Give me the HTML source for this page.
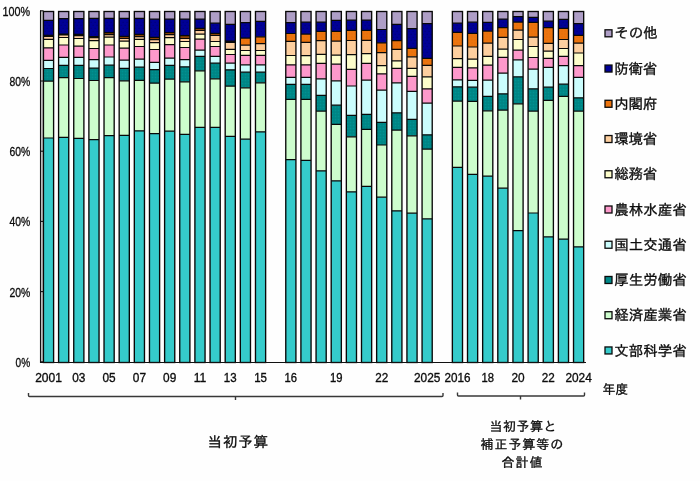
<!DOCTYPE html>
<html lang="ja"><head><meta charset="utf-8"><title>科学技術関係予算の府省別割合</title>
<style>html,body{margin:0;padding:0;background:#fff}svg{display:block}text{font-family:"Liberation Sans","IPAGothic","Noto Sans CJK JP",sans-serif;fill:#0c0c0c;stroke:#0c0c0c;stroke-width:.33px}</style></head><body>
<svg width="700" height="481" viewBox="0 0 700 481">
<rect x="0" y="0" width="700" height="481" fill="#fefefe"/>
<rect x="41" y="11" width="2.2" height="351.5" fill="#c4c4c4"/>
<defs>
<pattern id="pn" width="4" height="6" patternUnits="userSpaceOnUse"><rect width="4" height="6" fill="#000096"/><rect x="0.6" y="0.8" width="1" height="1" fill="#00006c"/><rect x="2.6" y="3.8" width="1" height="1" fill="#00006c"/></pattern>
<pattern id="pt" width="3" height="3" patternUnits="userSpaceOnUse"><rect width="3" height="3" fill="#008888"/><rect x="0.5" y="0.5" width="1" height="1" fill="#007c7c"/><rect x="2" y="2" width="1" height="1" fill="#009292"/></pattern>
<pattern id="po" width="3" height="3" patternUnits="userSpaceOnUse"><rect width="3" height="3" fill="#EC740E"/><rect x="0.5" y="0.5" width="1" height="1" fill="#de6c08"/></pattern>
</defs>
<g>
<rect x="43.45" y="11.50" width="10.15" height="8.80" fill="#AE9EC6"/>
<rect x="43.45" y="20.30" width="10.15" height="15.00" fill="url(#pn)"/>
<rect x="43.45" y="35.30" width="10.15" height="1.20" fill="#8a4306"/>
<rect x="43.45" y="36.50" width="10.15" height="2.90" fill="#FDCF9F"/>
<rect x="43.45" y="39.40" width="10.15" height="8.50" fill="#FDFDCB"/>
<rect x="43.45" y="47.90" width="10.15" height="12.40" fill="#FD99CB"/>
<rect x="43.45" y="60.30" width="10.15" height="8.20" fill="#CBFDFD"/>
<rect x="43.45" y="68.50" width="10.15" height="12.70" fill="url(#pt)"/>
<rect x="43.45" y="81.20" width="10.15" height="56.80" fill="#CDFDCD"/>
<rect x="43.45" y="138.00" width="10.15" height="224.50" fill="#35CBCB"/>
<path d="M43.45 20.30h10.15M43.45 35.30h10.15M43.45 36.50h10.15M43.45 39.40h10.15M43.45 47.90h10.15M43.45 60.30h10.15M43.45 68.50h10.15M43.45 81.20h10.15M43.45 138.00h10.15" stroke="#080808" stroke-width="1.2" fill="none"/>
<rect x="43.45" y="11.50" width="10.15" height="351.00" fill="none" stroke="#080808" stroke-width="1.35"/>
</g>
<g>
<rect x="58.59" y="11.50" width="10.15" height="7.10" fill="#AE9EC6"/>
<rect x="58.59" y="18.60" width="10.15" height="15.40" fill="url(#pn)"/>
<rect x="58.59" y="34.00" width="10.15" height="0.80" fill="#8a4306"/>
<rect x="58.59" y="34.80" width="10.15" height="2.70" fill="#FDCF9F"/>
<rect x="58.59" y="37.50" width="10.15" height="7.50" fill="#FDFDCB"/>
<rect x="58.59" y="45.00" width="10.15" height="12.40" fill="#FD99CB"/>
<rect x="58.59" y="57.40" width="10.15" height="7.90" fill="#CBFDFD"/>
<rect x="58.59" y="65.30" width="10.15" height="12.40" fill="url(#pt)"/>
<rect x="58.59" y="77.70" width="10.15" height="59.60" fill="#CDFDCD"/>
<rect x="58.59" y="137.30" width="10.15" height="225.20" fill="#35CBCB"/>
<path d="M58.59 18.60h10.15M58.59 34.00h10.15M58.59 34.80h10.15M58.59 37.50h10.15M58.59 45.00h10.15M58.59 57.40h10.15M58.59 65.30h10.15M58.59 77.70h10.15M58.59 137.30h10.15" stroke="#080808" stroke-width="1.2" fill="none"/>
<rect x="58.59" y="11.50" width="10.15" height="351.00" fill="none" stroke="#080808" stroke-width="1.35"/>
</g>
<g>
<rect x="73.74" y="11.50" width="10.15" height="7.10" fill="#AE9EC6"/>
<rect x="73.74" y="18.60" width="10.15" height="15.70" fill="url(#pn)"/>
<rect x="73.74" y="34.30" width="10.15" height="1.30" fill="#8a4306"/>
<rect x="73.74" y="35.60" width="10.15" height="2.90" fill="#FDCF9F"/>
<rect x="73.74" y="38.50" width="10.15" height="7.70" fill="#FDFDCB"/>
<rect x="73.74" y="46.20" width="10.15" height="11.20" fill="#FD99CB"/>
<rect x="73.74" y="57.40" width="10.15" height="8.00" fill="#CBFDFD"/>
<rect x="73.74" y="65.40" width="10.15" height="13.10" fill="url(#pt)"/>
<rect x="73.74" y="78.50" width="10.15" height="59.80" fill="#CDFDCD"/>
<rect x="73.74" y="138.30" width="10.15" height="224.20" fill="#35CBCB"/>
<path d="M73.74 18.60h10.15M73.74 34.30h10.15M73.74 35.60h10.15M73.74 38.50h10.15M73.74 46.20h10.15M73.74 57.40h10.15M73.74 65.40h10.15M73.74 78.50h10.15M73.74 138.30h10.15" stroke="#080808" stroke-width="1.2" fill="none"/>
<rect x="73.74" y="11.50" width="10.15" height="351.00" fill="none" stroke="#080808" stroke-width="1.35"/>
</g>
<g>
<rect x="88.89" y="11.50" width="10.15" height="6.90" fill="#AE9EC6"/>
<rect x="88.89" y="18.40" width="10.15" height="18.10" fill="url(#pn)"/>
<rect x="88.89" y="36.50" width="10.15" height="1.20" fill="#8a4306"/>
<rect x="88.89" y="37.70" width="10.15" height="2.90" fill="#FDCF9F"/>
<rect x="88.89" y="40.60" width="10.15" height="7.90" fill="#FDFDCB"/>
<rect x="88.89" y="48.50" width="10.15" height="11.10" fill="#FD99CB"/>
<rect x="88.89" y="59.60" width="10.15" height="8.50" fill="#CBFDFD"/>
<rect x="88.89" y="68.10" width="10.15" height="12.40" fill="url(#pt)"/>
<rect x="88.89" y="80.50" width="10.15" height="59.20" fill="#CDFDCD"/>
<rect x="88.89" y="139.70" width="10.15" height="222.80" fill="#35CBCB"/>
<path d="M88.89 18.40h10.15M88.89 36.50h10.15M88.89 37.70h10.15M88.89 40.60h10.15M88.89 48.50h10.15M88.89 59.60h10.15M88.89 68.10h10.15M88.89 80.50h10.15M88.89 139.70h10.15" stroke="#080808" stroke-width="1.2" fill="none"/>
<rect x="88.89" y="11.50" width="10.15" height="351.00" fill="none" stroke="#080808" stroke-width="1.35"/>
</g>
<g>
<rect x="104.03" y="11.50" width="10.15" height="6.80" fill="#AE9EC6"/>
<rect x="104.03" y="18.30" width="10.15" height="14.30" fill="url(#pn)"/>
<rect x="104.03" y="32.60" width="10.15" height="2.00" fill="#8a4306"/>
<rect x="104.03" y="34.60" width="10.15" height="2.50" fill="#FDCF9F"/>
<rect x="104.03" y="37.10" width="10.15" height="7.90" fill="#FDFDCB"/>
<rect x="104.03" y="45.00" width="10.15" height="12.00" fill="#FD99CB"/>
<rect x="104.03" y="57.00" width="10.15" height="8.20" fill="#CBFDFD"/>
<rect x="104.03" y="65.20" width="10.15" height="12.40" fill="url(#pt)"/>
<rect x="104.03" y="77.60" width="10.15" height="58.10" fill="#CDFDCD"/>
<rect x="104.03" y="135.70" width="10.15" height="226.80" fill="#35CBCB"/>
<path d="M104.03 18.30h10.15M104.03 32.60h10.15M104.03 34.60h10.15M104.03 37.10h10.15M104.03 45.00h10.15M104.03 57.00h10.15M104.03 65.20h10.15M104.03 77.60h10.15M104.03 135.70h10.15" stroke="#080808" stroke-width="1.2" fill="none"/>
<rect x="104.03" y="11.50" width="10.15" height="351.00" fill="none" stroke="#080808" stroke-width="1.35"/>
</g>
<g>
<rect x="119.17" y="11.50" width="10.15" height="6.80" fill="#AE9EC6"/>
<rect x="119.17" y="18.30" width="10.15" height="18.10" fill="url(#pn)"/>
<rect x="119.17" y="36.40" width="10.15" height="2.10" fill="#8a4306"/>
<rect x="119.17" y="38.50" width="10.15" height="2.60" fill="#FDCF9F"/>
<rect x="119.17" y="41.10" width="10.15" height="7.10" fill="#FDFDCB"/>
<rect x="119.17" y="48.20" width="10.15" height="11.90" fill="#FD99CB"/>
<rect x="119.17" y="60.10" width="10.15" height="8.20" fill="#CBFDFD"/>
<rect x="119.17" y="68.30" width="10.15" height="12.50" fill="url(#pt)"/>
<rect x="119.17" y="80.80" width="10.15" height="54.50" fill="#CDFDCD"/>
<rect x="119.17" y="135.30" width="10.15" height="227.20" fill="#35CBCB"/>
<path d="M119.17 18.30h10.15M119.17 36.40h10.15M119.17 38.50h10.15M119.17 41.10h10.15M119.17 48.20h10.15M119.17 60.10h10.15M119.17 68.30h10.15M119.17 80.80h10.15M119.17 135.30h10.15" stroke="#080808" stroke-width="1.2" fill="none"/>
<rect x="119.17" y="11.50" width="10.15" height="351.00" fill="none" stroke="#080808" stroke-width="1.35"/>
</g>
<g>
<rect x="134.32" y="11.50" width="10.15" height="6.80" fill="#AE9EC6"/>
<rect x="134.32" y="18.30" width="10.15" height="16.10" fill="url(#pn)"/>
<rect x="134.32" y="34.40" width="10.15" height="2.30" fill="#8a4306"/>
<rect x="134.32" y="36.70" width="10.15" height="2.70" fill="#FDCF9F"/>
<rect x="134.32" y="39.40" width="10.15" height="7.10" fill="#FDFDCB"/>
<rect x="134.32" y="46.50" width="10.15" height="12.70" fill="#FD99CB"/>
<rect x="134.32" y="59.20" width="10.15" height="8.00" fill="#CBFDFD"/>
<rect x="134.32" y="67.20" width="10.15" height="13.10" fill="url(#pt)"/>
<rect x="134.32" y="80.30" width="10.15" height="50.50" fill="#CDFDCD"/>
<rect x="134.32" y="130.80" width="10.15" height="231.70" fill="#35CBCB"/>
<path d="M134.32 18.30h10.15M134.32 34.40h10.15M134.32 36.70h10.15M134.32 39.40h10.15M134.32 46.50h10.15M134.32 59.20h10.15M134.32 67.20h10.15M134.32 80.30h10.15M134.32 130.80h10.15" stroke="#080808" stroke-width="1.2" fill="none"/>
<rect x="134.32" y="11.50" width="10.15" height="351.00" fill="none" stroke="#080808" stroke-width="1.35"/>
</g>
<g>
<rect x="149.47" y="11.50" width="10.15" height="7.60" fill="#AE9EC6"/>
<rect x="149.47" y="19.10" width="10.15" height="18.30" fill="url(#pn)"/>
<rect x="149.47" y="37.40" width="10.15" height="2.30" fill="#8a4306"/>
<rect x="149.47" y="39.70" width="10.15" height="2.90" fill="#FDCF9F"/>
<rect x="149.47" y="42.60" width="10.15" height="6.90" fill="#FDFDCB"/>
<rect x="149.47" y="49.50" width="10.15" height="12.80" fill="#FD99CB"/>
<rect x="149.47" y="62.30" width="10.15" height="7.40" fill="#CBFDFD"/>
<rect x="149.47" y="69.70" width="10.15" height="13.50" fill="url(#pt)"/>
<rect x="149.47" y="83.20" width="10.15" height="50.50" fill="#CDFDCD"/>
<rect x="149.47" y="133.70" width="10.15" height="228.80" fill="#35CBCB"/>
<path d="M149.47 19.10h10.15M149.47 37.40h10.15M149.47 39.70h10.15M149.47 42.60h10.15M149.47 49.50h10.15M149.47 62.30h10.15M149.47 69.70h10.15M149.47 83.20h10.15M149.47 133.70h10.15" stroke="#080808" stroke-width="1.2" fill="none"/>
<rect x="149.47" y="11.50" width="10.15" height="351.00" fill="none" stroke="#080808" stroke-width="1.35"/>
</g>
<g>
<rect x="164.61" y="11.50" width="10.15" height="7.60" fill="#AE9EC6"/>
<rect x="164.61" y="19.10" width="10.15" height="13.40" fill="url(#pn)"/>
<rect x="164.61" y="32.50" width="10.15" height="2.10" fill="#8a4306"/>
<rect x="164.61" y="34.60" width="10.15" height="3.00" fill="#FDCF9F"/>
<rect x="164.61" y="37.60" width="10.15" height="7.00" fill="#FDFDCB"/>
<rect x="164.61" y="44.60" width="10.15" height="13.50" fill="#FD99CB"/>
<rect x="164.61" y="58.10" width="10.15" height="7.20" fill="#CBFDFD"/>
<rect x="164.61" y="65.30" width="10.15" height="13.90" fill="url(#pt)"/>
<rect x="164.61" y="79.20" width="10.15" height="52.00" fill="#CDFDCD"/>
<rect x="164.61" y="131.20" width="10.15" height="231.30" fill="#35CBCB"/>
<path d="M164.61 19.10h10.15M164.61 32.50h10.15M164.61 34.60h10.15M164.61 37.60h10.15M164.61 44.60h10.15M164.61 58.10h10.15M164.61 65.30h10.15M164.61 79.20h10.15M164.61 131.20h10.15" stroke="#080808" stroke-width="1.2" fill="none"/>
<rect x="164.61" y="11.50" width="10.15" height="351.00" fill="none" stroke="#080808" stroke-width="1.35"/>
</g>
<g>
<rect x="179.75" y="11.50" width="10.15" height="7.60" fill="#AE9EC6"/>
<rect x="179.75" y="19.10" width="10.15" height="16.60" fill="url(#pn)"/>
<rect x="179.75" y="35.70" width="10.15" height="2.80" fill="#8a4306"/>
<rect x="179.75" y="38.50" width="10.15" height="3.00" fill="#FDCF9F"/>
<rect x="179.75" y="41.50" width="10.15" height="6.00" fill="#FDFDCB"/>
<rect x="179.75" y="47.50" width="10.15" height="12.20" fill="#FD99CB"/>
<rect x="179.75" y="59.70" width="10.15" height="7.10" fill="#CBFDFD"/>
<rect x="179.75" y="66.80" width="10.15" height="15.00" fill="url(#pt)"/>
<rect x="179.75" y="81.80" width="10.15" height="52.60" fill="#CDFDCD"/>
<rect x="179.75" y="134.40" width="10.15" height="228.10" fill="#35CBCB"/>
<path d="M179.75 19.10h10.15M179.75 35.70h10.15M179.75 38.50h10.15M179.75 41.50h10.15M179.75 47.50h10.15M179.75 59.70h10.15M179.75 66.80h10.15M179.75 81.80h10.15M179.75 134.40h10.15" stroke="#080808" stroke-width="1.2" fill="none"/>
<rect x="179.75" y="11.50" width="10.15" height="351.00" fill="none" stroke="#080808" stroke-width="1.35"/>
</g>
<g>
<rect x="194.90" y="11.50" width="10.15" height="7.60" fill="#AE9EC6"/>
<rect x="194.90" y="19.10" width="10.15" height="9.20" fill="url(#pn)"/>
<rect x="194.90" y="28.30" width="10.15" height="2.20" fill="#8a4306"/>
<rect x="194.90" y="30.50" width="10.15" height="3.70" fill="#FDCF9F"/>
<rect x="194.90" y="34.20" width="10.15" height="5.00" fill="#FDFDCB"/>
<rect x="194.90" y="39.20" width="10.15" height="11.00" fill="#FD99CB"/>
<rect x="194.90" y="50.20" width="10.15" height="6.20" fill="#CBFDFD"/>
<rect x="194.90" y="56.40" width="10.15" height="14.40" fill="url(#pt)"/>
<rect x="194.90" y="70.80" width="10.15" height="56.60" fill="#CDFDCD"/>
<rect x="194.90" y="127.40" width="10.15" height="235.10" fill="#35CBCB"/>
<path d="M194.90 19.10h10.15M194.90 28.30h10.15M194.90 30.50h10.15M194.90 34.20h10.15M194.90 39.20h10.15M194.90 50.20h10.15M194.90 56.40h10.15M194.90 70.80h10.15M194.90 127.40h10.15" stroke="#080808" stroke-width="1.2" fill="none"/>
<rect x="194.90" y="11.50" width="10.15" height="351.00" fill="none" stroke="#080808" stroke-width="1.35"/>
</g>
<g>
<rect x="210.05" y="11.50" width="10.15" height="11.60" fill="#AE9EC6"/>
<rect x="210.05" y="23.10" width="10.15" height="10.20" fill="url(#pn)"/>
<rect x="210.05" y="33.30" width="10.15" height="2.20" fill="#8a4306"/>
<rect x="210.05" y="35.50" width="10.15" height="6.00" fill="#FDCF9F"/>
<rect x="210.05" y="41.50" width="10.15" height="5.00" fill="#FDFDCB"/>
<rect x="210.05" y="46.50" width="10.15" height="9.80" fill="#FD99CB"/>
<rect x="210.05" y="56.30" width="10.15" height="6.90" fill="#CBFDFD"/>
<rect x="210.05" y="63.20" width="10.15" height="15.60" fill="url(#pt)"/>
<rect x="210.05" y="78.80" width="10.15" height="48.60" fill="#CDFDCD"/>
<rect x="210.05" y="127.40" width="10.15" height="235.10" fill="#35CBCB"/>
<path d="M210.05 23.10h10.15M210.05 33.30h10.15M210.05 35.50h10.15M210.05 41.50h10.15M210.05 46.50h10.15M210.05 56.30h10.15M210.05 63.20h10.15M210.05 78.80h10.15M210.05 127.40h10.15" stroke="#080808" stroke-width="1.2" fill="none"/>
<rect x="210.05" y="11.50" width="10.15" height="351.00" fill="none" stroke="#080808" stroke-width="1.35"/>
</g>
<g>
<rect x="225.19" y="11.50" width="10.15" height="12.90" fill="#AE9EC6"/>
<rect x="225.19" y="24.40" width="10.15" height="16.70" fill="url(#pn)"/>
<rect x="225.19" y="41.10" width="10.15" height="1.30" fill="#8a4306"/>
<rect x="225.19" y="42.40" width="10.15" height="7.00" fill="#FDCF9F"/>
<rect x="225.19" y="49.40" width="10.15" height="5.10" fill="#FDFDCB"/>
<rect x="225.19" y="54.50" width="10.15" height="8.70" fill="#FD99CB"/>
<rect x="225.19" y="63.20" width="10.15" height="6.60" fill="#CBFDFD"/>
<rect x="225.19" y="69.80" width="10.15" height="16.40" fill="url(#pt)"/>
<rect x="225.19" y="86.20" width="10.15" height="50.20" fill="#CDFDCD"/>
<rect x="225.19" y="136.40" width="10.15" height="226.10" fill="#35CBCB"/>
<path d="M225.19 24.40h10.15M225.19 41.10h10.15M225.19 42.40h10.15M225.19 49.40h10.15M225.19 54.50h10.15M225.19 63.20h10.15M225.19 69.80h10.15M225.19 86.20h10.15M225.19 136.40h10.15" stroke="#080808" stroke-width="1.2" fill="none"/>
<rect x="225.19" y="11.50" width="10.15" height="351.00" fill="none" stroke="#080808" stroke-width="1.35"/>
</g>
<g>
<rect x="240.33" y="11.50" width="10.15" height="11.10" fill="#AE9EC6"/>
<rect x="240.33" y="22.60" width="10.15" height="15.50" fill="url(#pn)"/>
<rect x="240.33" y="38.10" width="10.15" height="7.00" fill="url(#po)"/>
<rect x="240.33" y="45.10" width="10.15" height="5.40" fill="#FDCF9F"/>
<rect x="240.33" y="50.50" width="10.15" height="4.80" fill="#FDFDCB"/>
<rect x="240.33" y="55.30" width="10.15" height="9.50" fill="#FD99CB"/>
<rect x="240.33" y="64.80" width="10.15" height="7.40" fill="#CBFDFD"/>
<rect x="240.33" y="72.20" width="10.15" height="15.60" fill="url(#pt)"/>
<rect x="240.33" y="87.80" width="10.15" height="51.40" fill="#CDFDCD"/>
<rect x="240.33" y="139.20" width="10.15" height="223.30" fill="#35CBCB"/>
<path d="M240.33 22.60h10.15M240.33 38.10h10.15M240.33 45.10h10.15M240.33 50.50h10.15M240.33 55.30h10.15M240.33 64.80h10.15M240.33 72.20h10.15M240.33 87.80h10.15M240.33 139.20h10.15" stroke="#080808" stroke-width="1.2" fill="none"/>
<rect x="240.33" y="11.50" width="10.15" height="351.00" fill="none" stroke="#080808" stroke-width="1.35"/>
</g>
<g>
<rect x="255.48" y="11.50" width="10.15" height="9.90" fill="#AE9EC6"/>
<rect x="255.48" y="21.40" width="10.15" height="15.40" fill="url(#pn)"/>
<rect x="255.48" y="36.80" width="10.15" height="6.90" fill="url(#po)"/>
<rect x="255.48" y="43.70" width="10.15" height="6.80" fill="#FDCF9F"/>
<rect x="255.48" y="50.50" width="10.15" height="4.80" fill="#FDFDCB"/>
<rect x="255.48" y="55.30" width="10.15" height="9.50" fill="#FD99CB"/>
<rect x="255.48" y="64.80" width="10.15" height="7.40" fill="#CBFDFD"/>
<rect x="255.48" y="72.20" width="10.15" height="10.60" fill="url(#pt)"/>
<rect x="255.48" y="82.80" width="10.15" height="49.00" fill="#CDFDCD"/>
<rect x="255.48" y="131.80" width="10.15" height="230.70" fill="#35CBCB"/>
<path d="M255.48 21.40h10.15M255.48 36.80h10.15M255.48 43.70h10.15M255.48 50.50h10.15M255.48 55.30h10.15M255.48 64.80h10.15M255.48 72.20h10.15M255.48 82.80h10.15M255.48 131.80h10.15" stroke="#080808" stroke-width="1.2" fill="none"/>
<rect x="255.48" y="11.50" width="10.15" height="351.00" fill="none" stroke="#080808" stroke-width="1.35"/>
</g>
<g>
<rect x="285.77" y="11.50" width="10.15" height="11.10" fill="#AE9EC6"/>
<rect x="285.77" y="22.60" width="10.15" height="10.90" fill="url(#pn)"/>
<rect x="285.77" y="33.50" width="10.15" height="7.90" fill="url(#po)"/>
<rect x="285.77" y="41.40" width="10.15" height="14.10" fill="#FDCF9F"/>
<rect x="285.77" y="55.50" width="10.15" height="9.30" fill="#FDFDCB"/>
<rect x="285.77" y="64.80" width="10.15" height="12.50" fill="#FD99CB"/>
<rect x="285.77" y="77.30" width="10.15" height="7.10" fill="#CBFDFD"/>
<rect x="285.77" y="84.40" width="10.15" height="14.90" fill="url(#pt)"/>
<rect x="285.77" y="99.30" width="10.15" height="60.40" fill="#CDFDCD"/>
<rect x="285.77" y="159.70" width="10.15" height="202.80" fill="#35CBCB"/>
<path d="M285.77 22.60h10.15M285.77 33.50h10.15M285.77 41.40h10.15M285.77 55.50h10.15M285.77 64.80h10.15M285.77 77.30h10.15M285.77 84.40h10.15M285.77 99.30h10.15M285.77 159.70h10.15" stroke="#080808" stroke-width="1.2" fill="none"/>
<rect x="285.77" y="11.50" width="10.15" height="351.00" fill="none" stroke="#080808" stroke-width="1.35"/>
</g>
<g>
<rect x="300.91" y="11.50" width="10.15" height="10.60" fill="#AE9EC6"/>
<rect x="300.91" y="22.10" width="10.15" height="12.00" fill="url(#pn)"/>
<rect x="300.91" y="34.10" width="10.15" height="8.30" fill="url(#po)"/>
<rect x="300.91" y="42.40" width="10.15" height="13.20" fill="#FDCF9F"/>
<rect x="300.91" y="55.60" width="10.15" height="9.20" fill="#FDFDCB"/>
<rect x="300.91" y="64.80" width="10.15" height="12.50" fill="#FD99CB"/>
<rect x="300.91" y="77.30" width="10.15" height="7.10" fill="#CBFDFD"/>
<rect x="300.91" y="84.40" width="10.15" height="14.90" fill="url(#pt)"/>
<rect x="300.91" y="99.30" width="10.15" height="61.10" fill="#CDFDCD"/>
<rect x="300.91" y="160.40" width="10.15" height="202.10" fill="#35CBCB"/>
<path d="M300.91 22.10h10.15M300.91 34.10h10.15M300.91 42.40h10.15M300.91 55.60h10.15M300.91 64.80h10.15M300.91 77.30h10.15M300.91 84.40h10.15M300.91 99.30h10.15M300.91 160.40h10.15" stroke="#080808" stroke-width="1.2" fill="none"/>
<rect x="300.91" y="11.50" width="10.15" height="351.00" fill="none" stroke="#080808" stroke-width="1.35"/>
</g>
<g>
<rect x="316.06" y="11.50" width="10.15" height="10.60" fill="#AE9EC6"/>
<rect x="316.06" y="22.10" width="10.15" height="9.30" fill="url(#pn)"/>
<rect x="316.06" y="31.40" width="10.15" height="9.30" fill="url(#po)"/>
<rect x="316.06" y="40.70" width="10.15" height="13.60" fill="#FDCF9F"/>
<rect x="316.06" y="54.30" width="10.15" height="9.00" fill="#FDFDCB"/>
<rect x="316.06" y="63.30" width="10.15" height="15.50" fill="#FD99CB"/>
<rect x="316.06" y="78.80" width="10.15" height="16.50" fill="#CBFDFD"/>
<rect x="316.06" y="95.30" width="10.15" height="15.90" fill="url(#pt)"/>
<rect x="316.06" y="111.20" width="10.15" height="59.60" fill="#CDFDCD"/>
<rect x="316.06" y="170.80" width="10.15" height="191.70" fill="#35CBCB"/>
<path d="M316.06 22.10h10.15M316.06 31.40h10.15M316.06 40.70h10.15M316.06 54.30h10.15M316.06 63.30h10.15M316.06 78.80h10.15M316.06 95.30h10.15M316.06 111.20h10.15M316.06 170.80h10.15" stroke="#080808" stroke-width="1.2" fill="none"/>
<rect x="316.06" y="11.50" width="10.15" height="351.00" fill="none" stroke="#080808" stroke-width="1.35"/>
</g>
<g>
<rect x="331.20" y="11.50" width="10.15" height="8.90" fill="#AE9EC6"/>
<rect x="331.20" y="20.40" width="10.15" height="11.00" fill="url(#pn)"/>
<rect x="331.20" y="31.40" width="10.15" height="9.70" fill="url(#po)"/>
<rect x="331.20" y="41.10" width="10.15" height="14.00" fill="#FDCF9F"/>
<rect x="331.20" y="55.10" width="10.15" height="9.00" fill="#FDFDCB"/>
<rect x="331.20" y="64.10" width="10.15" height="16.70" fill="#FD99CB"/>
<rect x="331.20" y="80.80" width="10.15" height="24.40" fill="#CBFDFD"/>
<rect x="331.20" y="105.20" width="10.15" height="19.20" fill="url(#pt)"/>
<rect x="331.20" y="124.40" width="10.15" height="56.40" fill="#CDFDCD"/>
<rect x="331.20" y="180.80" width="10.15" height="181.70" fill="#35CBCB"/>
<path d="M331.20 20.40h10.15M331.20 31.40h10.15M331.20 41.10h10.15M331.20 55.10h10.15M331.20 64.10h10.15M331.20 80.80h10.15M331.20 105.20h10.15M331.20 124.40h10.15M331.20 180.80h10.15" stroke="#080808" stroke-width="1.2" fill="none"/>
<rect x="331.20" y="11.50" width="10.15" height="351.00" fill="none" stroke="#080808" stroke-width="1.35"/>
</g>
<g>
<rect x="346.35" y="11.50" width="10.15" height="8.60" fill="#AE9EC6"/>
<rect x="346.35" y="20.10" width="10.15" height="10.30" fill="url(#pn)"/>
<rect x="346.35" y="30.40" width="10.15" height="10.10" fill="url(#po)"/>
<rect x="346.35" y="40.50" width="10.15" height="14.10" fill="#FDCF9F"/>
<rect x="346.35" y="54.60" width="10.15" height="14.80" fill="#FDFDCB"/>
<rect x="346.35" y="69.40" width="10.15" height="16.60" fill="#FD99CB"/>
<rect x="346.35" y="86.00" width="10.15" height="29.40" fill="#CBFDFD"/>
<rect x="346.35" y="115.40" width="10.15" height="21.40" fill="url(#pt)"/>
<rect x="346.35" y="136.80" width="10.15" height="55.00" fill="#CDFDCD"/>
<rect x="346.35" y="191.80" width="10.15" height="170.70" fill="#35CBCB"/>
<path d="M346.35 20.10h10.15M346.35 30.40h10.15M346.35 40.50h10.15M346.35 54.60h10.15M346.35 69.40h10.15M346.35 86.00h10.15M346.35 115.40h10.15M346.35 136.80h10.15M346.35 191.80h10.15" stroke="#080808" stroke-width="1.2" fill="none"/>
<rect x="346.35" y="11.50" width="10.15" height="351.00" fill="none" stroke="#080808" stroke-width="1.35"/>
</g>
<g>
<rect x="361.50" y="11.50" width="10.15" height="8.60" fill="#AE9EC6"/>
<rect x="361.50" y="20.10" width="10.15" height="10.30" fill="url(#pn)"/>
<rect x="361.50" y="30.40" width="10.15" height="10.00" fill="url(#po)"/>
<rect x="361.50" y="40.40" width="10.15" height="13.20" fill="#FDCF9F"/>
<rect x="361.50" y="53.60" width="10.15" height="9.80" fill="#FDFDCB"/>
<rect x="361.50" y="63.40" width="10.15" height="16.80" fill="#FD99CB"/>
<rect x="361.50" y="80.20" width="10.15" height="34.20" fill="#CBFDFD"/>
<rect x="361.50" y="114.40" width="10.15" height="15.00" fill="url(#pt)"/>
<rect x="361.50" y="129.40" width="10.15" height="57.00" fill="#CDFDCD"/>
<rect x="361.50" y="186.40" width="10.15" height="176.10" fill="#35CBCB"/>
<path d="M361.50 20.10h10.15M361.50 30.40h10.15M361.50 40.40h10.15M361.50 53.60h10.15M361.50 63.40h10.15M361.50 80.20h10.15M361.50 114.40h10.15M361.50 129.40h10.15M361.50 186.40h10.15" stroke="#080808" stroke-width="1.2" fill="none"/>
<rect x="361.50" y="11.50" width="10.15" height="351.00" fill="none" stroke="#080808" stroke-width="1.35"/>
</g>
<g>
<rect x="376.64" y="11.50" width="10.15" height="18.00" fill="#AE9EC6"/>
<rect x="376.64" y="29.50" width="10.15" height="13.40" fill="url(#pn)"/>
<rect x="376.64" y="42.90" width="10.15" height="9.70" fill="url(#po)"/>
<rect x="376.64" y="52.60" width="10.15" height="13.10" fill="#FDCF9F"/>
<rect x="376.64" y="65.70" width="10.15" height="8.10" fill="#FDFDCB"/>
<rect x="376.64" y="73.80" width="10.15" height="16.40" fill="#FD99CB"/>
<rect x="376.64" y="90.20" width="10.15" height="32.20" fill="#CBFDFD"/>
<rect x="376.64" y="122.40" width="10.15" height="22.60" fill="url(#pt)"/>
<rect x="376.64" y="145.00" width="10.15" height="52.20" fill="#CDFDCD"/>
<rect x="376.64" y="197.20" width="10.15" height="165.30" fill="#35CBCB"/>
<path d="M376.64 29.50h10.15M376.64 42.90h10.15M376.64 52.60h10.15M376.64 65.70h10.15M376.64 73.80h10.15M376.64 90.20h10.15M376.64 122.40h10.15M376.64 145.00h10.15M376.64 197.20h10.15" stroke="#080808" stroke-width="1.2" fill="none"/>
<rect x="376.64" y="11.50" width="10.15" height="351.00" fill="none" stroke="#080808" stroke-width="1.35"/>
</g>
<g>
<rect x="391.78" y="11.50" width="10.15" height="12.90" fill="#AE9EC6"/>
<rect x="391.78" y="24.40" width="10.15" height="16.20" fill="url(#pn)"/>
<rect x="391.78" y="40.60" width="10.15" height="8.80" fill="url(#po)"/>
<rect x="391.78" y="49.40" width="10.15" height="11.40" fill="#FDCF9F"/>
<rect x="391.78" y="60.80" width="10.15" height="7.60" fill="#FDFDCB"/>
<rect x="391.78" y="68.40" width="10.15" height="14.40" fill="#FD99CB"/>
<rect x="391.78" y="82.80" width="10.15" height="30.00" fill="#CBFDFD"/>
<rect x="391.78" y="112.80" width="10.15" height="17.40" fill="url(#pt)"/>
<rect x="391.78" y="130.20" width="10.15" height="80.60" fill="#CDFDCD"/>
<rect x="391.78" y="210.80" width="10.15" height="151.70" fill="#35CBCB"/>
<path d="M391.78 24.40h10.15M391.78 40.60h10.15M391.78 49.40h10.15M391.78 60.80h10.15M391.78 68.40h10.15M391.78 82.80h10.15M391.78 112.80h10.15M391.78 130.20h10.15M391.78 210.80h10.15" stroke="#080808" stroke-width="1.2" fill="none"/>
<rect x="391.78" y="11.50" width="10.15" height="351.00" fill="none" stroke="#080808" stroke-width="1.35"/>
</g>
<g>
<rect x="406.93" y="11.50" width="10.15" height="17.10" fill="#AE9EC6"/>
<rect x="406.93" y="28.60" width="10.15" height="19.70" fill="url(#pn)"/>
<rect x="406.93" y="48.30" width="10.15" height="8.50" fill="url(#po)"/>
<rect x="406.93" y="56.80" width="10.15" height="11.60" fill="#FDCF9F"/>
<rect x="406.93" y="68.40" width="10.15" height="8.00" fill="#FDFDCB"/>
<rect x="406.93" y="76.40" width="10.15" height="15.00" fill="#FD99CB"/>
<rect x="406.93" y="91.40" width="10.15" height="28.00" fill="#CBFDFD"/>
<rect x="406.93" y="119.40" width="10.15" height="16.40" fill="url(#pt)"/>
<rect x="406.93" y="135.80" width="10.15" height="77.40" fill="#CDFDCD"/>
<rect x="406.93" y="213.20" width="10.15" height="149.30" fill="#35CBCB"/>
<path d="M406.93 28.60h10.15M406.93 48.30h10.15M406.93 56.80h10.15M406.93 68.40h10.15M406.93 76.40h10.15M406.93 91.40h10.15M406.93 119.40h10.15M406.93 135.80h10.15M406.93 213.20h10.15" stroke="#080808" stroke-width="1.2" fill="none"/>
<rect x="406.93" y="11.50" width="10.15" height="351.00" fill="none" stroke="#080808" stroke-width="1.35"/>
</g>
<g>
<rect x="422.07" y="11.50" width="10.15" height="12.10" fill="#AE9EC6"/>
<rect x="422.07" y="23.60" width="10.15" height="34.70" fill="url(#pn)"/>
<rect x="422.07" y="58.30" width="10.15" height="7.10" fill="url(#po)"/>
<rect x="422.07" y="65.40" width="10.15" height="11.40" fill="#FDCF9F"/>
<rect x="422.07" y="76.80" width="10.15" height="12.00" fill="#FDFDCB"/>
<rect x="422.07" y="88.80" width="10.15" height="14.40" fill="#FD99CB"/>
<rect x="422.07" y="103.20" width="10.15" height="31.60" fill="#CBFDFD"/>
<rect x="422.07" y="134.80" width="10.15" height="14.40" fill="url(#pt)"/>
<rect x="422.07" y="149.20" width="10.15" height="69.60" fill="#CDFDCD"/>
<rect x="422.07" y="218.80" width="10.15" height="143.70" fill="#35CBCB"/>
<path d="M422.07 23.60h10.15M422.07 58.30h10.15M422.07 65.40h10.15M422.07 76.80h10.15M422.07 88.80h10.15M422.07 103.20h10.15M422.07 134.80h10.15M422.07 149.20h10.15M422.07 218.80h10.15" stroke="#080808" stroke-width="1.2" fill="none"/>
<rect x="422.07" y="11.50" width="10.15" height="351.00" fill="none" stroke="#080808" stroke-width="1.35"/>
</g>
<g>
<rect x="452.36" y="11.50" width="10.15" height="11.60" fill="#AE9EC6"/>
<rect x="452.36" y="23.10" width="10.15" height="9.30" fill="url(#pn)"/>
<rect x="452.36" y="32.40" width="10.15" height="13.60" fill="url(#po)"/>
<rect x="452.36" y="46.00" width="10.15" height="12.70" fill="#FDCF9F"/>
<rect x="452.36" y="58.70" width="10.15" height="8.70" fill="#FDFDCB"/>
<rect x="452.36" y="67.40" width="10.15" height="12.40" fill="#FD99CB"/>
<rect x="452.36" y="79.80" width="10.15" height="7.00" fill="#CBFDFD"/>
<rect x="452.36" y="86.80" width="10.15" height="14.40" fill="url(#pt)"/>
<rect x="452.36" y="101.20" width="10.15" height="66.20" fill="#CDFDCD"/>
<rect x="452.36" y="167.40" width="10.15" height="195.10" fill="#35CBCB"/>
<path d="M452.36 23.10h10.15M452.36 32.40h10.15M452.36 46.00h10.15M452.36 58.70h10.15M452.36 67.40h10.15M452.36 79.80h10.15M452.36 86.80h10.15M452.36 101.20h10.15M452.36 167.40h10.15" stroke="#080808" stroke-width="1.2" fill="none"/>
<rect x="452.36" y="11.50" width="10.15" height="351.00" fill="none" stroke="#080808" stroke-width="1.35"/>
</g>
<g>
<rect x="467.51" y="11.50" width="10.15" height="10.70" fill="#AE9EC6"/>
<rect x="467.51" y="22.20" width="10.15" height="11.20" fill="url(#pn)"/>
<rect x="467.51" y="33.40" width="10.15" height="13.60" fill="url(#po)"/>
<rect x="467.51" y="47.00" width="10.15" height="12.20" fill="#FDCF9F"/>
<rect x="467.51" y="59.20" width="10.15" height="8.60" fill="#FDFDCB"/>
<rect x="467.51" y="67.80" width="10.15" height="12.60" fill="#FD99CB"/>
<rect x="467.51" y="80.40" width="10.15" height="6.80" fill="#CBFDFD"/>
<rect x="467.51" y="87.20" width="10.15" height="14.20" fill="url(#pt)"/>
<rect x="467.51" y="101.40" width="10.15" height="73.00" fill="#CDFDCD"/>
<rect x="467.51" y="174.40" width="10.15" height="188.10" fill="#35CBCB"/>
<path d="M467.51 22.20h10.15M467.51 33.40h10.15M467.51 47.00h10.15M467.51 59.20h10.15M467.51 67.80h10.15M467.51 80.40h10.15M467.51 87.20h10.15M467.51 101.40h10.15M467.51 174.40h10.15" stroke="#080808" stroke-width="1.2" fill="none"/>
<rect x="467.51" y="11.50" width="10.15" height="351.00" fill="none" stroke="#080808" stroke-width="1.35"/>
</g>
<g>
<rect x="482.65" y="11.50" width="10.15" height="10.90" fill="#AE9EC6"/>
<rect x="482.65" y="22.40" width="10.15" height="8.70" fill="url(#pn)"/>
<rect x="482.65" y="31.10" width="10.15" height="12.10" fill="url(#po)"/>
<rect x="482.65" y="43.20" width="10.15" height="13.20" fill="#FDCF9F"/>
<rect x="482.65" y="56.40" width="10.15" height="8.80" fill="#FDFDCB"/>
<rect x="482.65" y="65.20" width="10.15" height="15.00" fill="#FD99CB"/>
<rect x="482.65" y="80.20" width="10.15" height="16.20" fill="#CBFDFD"/>
<rect x="482.65" y="96.40" width="10.15" height="14.40" fill="url(#pt)"/>
<rect x="482.65" y="110.80" width="10.15" height="65.40" fill="#CDFDCD"/>
<rect x="482.65" y="176.20" width="10.15" height="186.30" fill="#35CBCB"/>
<path d="M482.65 22.40h10.15M482.65 31.10h10.15M482.65 43.20h10.15M482.65 56.40h10.15M482.65 65.20h10.15M482.65 80.20h10.15M482.65 96.40h10.15M482.65 110.80h10.15M482.65 176.20h10.15" stroke="#080808" stroke-width="1.2" fill="none"/>
<rect x="482.65" y="11.50" width="10.15" height="351.00" fill="none" stroke="#080808" stroke-width="1.35"/>
</g>
<g>
<rect x="497.80" y="11.50" width="10.15" height="7.60" fill="#AE9EC6"/>
<rect x="497.80" y="19.10" width="10.15" height="8.50" fill="url(#pn)"/>
<rect x="497.80" y="27.60" width="10.15" height="9.80" fill="url(#po)"/>
<rect x="497.80" y="37.40" width="10.15" height="11.80" fill="#FDCF9F"/>
<rect x="497.80" y="49.20" width="10.15" height="8.20" fill="#FDFDCB"/>
<rect x="497.80" y="57.40" width="10.15" height="15.80" fill="#FD99CB"/>
<rect x="497.80" y="73.20" width="10.15" height="20.60" fill="#CBFDFD"/>
<rect x="497.80" y="93.80" width="10.15" height="16.40" fill="url(#pt)"/>
<rect x="497.80" y="110.20" width="10.15" height="78.00" fill="#CDFDCD"/>
<rect x="497.80" y="188.20" width="10.15" height="174.30" fill="#35CBCB"/>
<path d="M497.80 19.10h10.15M497.80 27.60h10.15M497.80 37.40h10.15M497.80 49.20h10.15M497.80 57.40h10.15M497.80 73.20h10.15M497.80 93.80h10.15M497.80 110.20h10.15M497.80 188.20h10.15" stroke="#080808" stroke-width="1.2" fill="none"/>
<rect x="497.80" y="11.50" width="10.15" height="351.00" fill="none" stroke="#080808" stroke-width="1.35"/>
</g>
<g>
<rect x="512.95" y="11.50" width="10.15" height="5.10" fill="#AE9EC6"/>
<rect x="512.95" y="16.60" width="10.15" height="5.50" fill="url(#pn)"/>
<rect x="512.95" y="22.10" width="10.15" height="8.00" fill="url(#po)"/>
<rect x="512.95" y="30.10" width="10.15" height="9.40" fill="#FDCF9F"/>
<rect x="512.95" y="39.50" width="10.15" height="10.70" fill="#FDFDCB"/>
<rect x="512.95" y="50.20" width="10.15" height="9.60" fill="#FD99CB"/>
<rect x="512.95" y="59.80" width="10.15" height="17.00" fill="#CBFDFD"/>
<rect x="512.95" y="76.80" width="10.15" height="27.00" fill="url(#pt)"/>
<rect x="512.95" y="103.80" width="10.15" height="126.80" fill="#CDFDCD"/>
<rect x="512.95" y="230.60" width="10.15" height="131.90" fill="#35CBCB"/>
<path d="M512.95 16.60h10.15M512.95 22.10h10.15M512.95 30.10h10.15M512.95 39.50h10.15M512.95 50.20h10.15M512.95 59.80h10.15M512.95 76.80h10.15M512.95 103.80h10.15M512.95 230.60h10.15" stroke="#080808" stroke-width="1.2" fill="none"/>
<rect x="512.95" y="11.50" width="10.15" height="351.00" fill="none" stroke="#080808" stroke-width="1.35"/>
</g>
<g>
<rect x="528.09" y="11.50" width="10.15" height="5.80" fill="#AE9EC6"/>
<rect x="528.09" y="17.30" width="10.15" height="5.10" fill="url(#pn)"/>
<rect x="528.09" y="22.40" width="10.15" height="14.70" fill="url(#po)"/>
<rect x="528.09" y="37.10" width="10.15" height="9.40" fill="#FDCF9F"/>
<rect x="528.09" y="46.50" width="10.15" height="11.00" fill="#FDFDCB"/>
<rect x="528.09" y="57.50" width="10.15" height="11.70" fill="#FD99CB"/>
<rect x="528.09" y="69.20" width="10.15" height="19.60" fill="#CBFDFD"/>
<rect x="528.09" y="88.80" width="10.15" height="22.40" fill="url(#pt)"/>
<rect x="528.09" y="111.20" width="10.15" height="101.80" fill="#CDFDCD"/>
<rect x="528.09" y="213.00" width="10.15" height="149.50" fill="#35CBCB"/>
<path d="M528.09 17.30h10.15M528.09 22.40h10.15M528.09 37.10h10.15M528.09 46.50h10.15M528.09 57.50h10.15M528.09 69.20h10.15M528.09 88.80h10.15M528.09 111.20h10.15M528.09 213.00h10.15" stroke="#080808" stroke-width="1.2" fill="none"/>
<rect x="528.09" y="11.50" width="10.15" height="351.00" fill="none" stroke="#080808" stroke-width="1.35"/>
</g>
<g>
<rect x="543.24" y="11.50" width="10.15" height="9.60" fill="#AE9EC6"/>
<rect x="543.24" y="21.10" width="10.15" height="6.50" fill="url(#pn)"/>
<rect x="543.24" y="27.60" width="10.15" height="15.80" fill="url(#po)"/>
<rect x="543.24" y="43.40" width="10.15" height="7.80" fill="#FDCF9F"/>
<rect x="543.24" y="51.20" width="10.15" height="7.20" fill="#FDFDCB"/>
<rect x="543.24" y="58.40" width="10.15" height="9.00" fill="#FD99CB"/>
<rect x="543.24" y="67.40" width="10.15" height="19.80" fill="#CBFDFD"/>
<rect x="543.24" y="87.20" width="10.15" height="13.20" fill="url(#pt)"/>
<rect x="543.24" y="100.40" width="10.15" height="136.40" fill="#CDFDCD"/>
<rect x="543.24" y="236.80" width="10.15" height="125.70" fill="#35CBCB"/>
<path d="M543.24 21.10h10.15M543.24 27.60h10.15M543.24 43.40h10.15M543.24 51.20h10.15M543.24 58.40h10.15M543.24 67.40h10.15M543.24 87.20h10.15M543.24 100.40h10.15M543.24 236.80h10.15" stroke="#080808" stroke-width="1.2" fill="none"/>
<rect x="543.24" y="11.50" width="10.15" height="351.00" fill="none" stroke="#080808" stroke-width="1.35"/>
</g>
<g>
<rect x="558.38" y="11.50" width="10.15" height="7.90" fill="#AE9EC6"/>
<rect x="558.38" y="19.40" width="10.15" height="9.00" fill="url(#pn)"/>
<rect x="558.38" y="28.40" width="10.15" height="11.10" fill="url(#po)"/>
<rect x="558.38" y="39.50" width="10.15" height="9.00" fill="#FDCF9F"/>
<rect x="558.38" y="48.50" width="10.15" height="7.80" fill="#FDFDCB"/>
<rect x="558.38" y="56.30" width="10.15" height="9.40" fill="#FD99CB"/>
<rect x="558.38" y="65.70" width="10.15" height="18.50" fill="#CBFDFD"/>
<rect x="558.38" y="84.20" width="10.15" height="12.20" fill="url(#pt)"/>
<rect x="558.38" y="96.40" width="10.15" height="142.80" fill="#CDFDCD"/>
<rect x="558.38" y="239.20" width="10.15" height="123.30" fill="#35CBCB"/>
<path d="M558.38 19.40h10.15M558.38 28.40h10.15M558.38 39.50h10.15M558.38 48.50h10.15M558.38 56.30h10.15M558.38 65.70h10.15M558.38 84.20h10.15M558.38 96.40h10.15M558.38 239.20h10.15" stroke="#080808" stroke-width="1.2" fill="none"/>
<rect x="558.38" y="11.50" width="10.15" height="351.00" fill="none" stroke="#080808" stroke-width="1.35"/>
</g>
<g>
<rect x="573.52" y="11.50" width="10.15" height="12.10" fill="#AE9EC6"/>
<rect x="573.52" y="23.60" width="10.15" height="11.80" fill="url(#pn)"/>
<rect x="573.52" y="35.40" width="10.15" height="7.80" fill="url(#po)"/>
<rect x="573.52" y="43.20" width="10.15" height="9.80" fill="#FDCF9F"/>
<rect x="573.52" y="53.00" width="10.15" height="12.70" fill="#FDFDCB"/>
<rect x="573.52" y="65.70" width="10.15" height="11.60" fill="#FD99CB"/>
<rect x="573.52" y="77.30" width="10.15" height="20.50" fill="#CBFDFD"/>
<rect x="573.52" y="97.80" width="10.15" height="13.40" fill="url(#pt)"/>
<rect x="573.52" y="111.20" width="10.15" height="135.60" fill="#CDFDCD"/>
<rect x="573.52" y="246.80" width="10.15" height="115.70" fill="#35CBCB"/>
<path d="M573.52 23.60h10.15M573.52 35.40h10.15M573.52 43.20h10.15M573.52 53.00h10.15M573.52 65.70h10.15M573.52 77.30h10.15M573.52 97.80h10.15M573.52 111.20h10.15M573.52 246.80h10.15" stroke="#080808" stroke-width="1.2" fill="none"/>
<rect x="573.52" y="11.50" width="10.15" height="351.00" fill="none" stroke="#080808" stroke-width="1.35"/>
</g>
<path d="M40.5 10.5V362.5H586" fill="none" stroke="#111" stroke-width="1.1"/>
<path d="M40 10.80H43.6" stroke="#111" stroke-width="1.1"/>
<path d="M40 81.00H43.6" stroke="#111" stroke-width="1.1"/>
<path d="M40 151.20H43.6" stroke="#111" stroke-width="1.1"/>
<path d="M40 221.40H43.6" stroke="#111" stroke-width="1.1"/>
<path d="M40 291.60H43.6" stroke="#111" stroke-width="1.1"/>
<path d="M40 361.80H43.6" stroke="#111" stroke-width="1.1"/>
<text x="30.2" y="15.80" font-size="13" text-anchor="end" textLength="27.6" lengthAdjust="spacingAndGlyphs">100%</text>
<text x="30.2" y="86.00" font-size="13" text-anchor="end" textLength="20.8" lengthAdjust="spacingAndGlyphs">80%</text>
<text x="30.2" y="156.20" font-size="13" text-anchor="end" textLength="20.8" lengthAdjust="spacingAndGlyphs">60%</text>
<text x="30.2" y="226.40" font-size="13" text-anchor="end" textLength="20.8" lengthAdjust="spacingAndGlyphs">40%</text>
<text x="30.2" y="296.60" font-size="13" text-anchor="end" textLength="20.8" lengthAdjust="spacingAndGlyphs">20%</text>
<text x="30.2" y="366.80" font-size="13" text-anchor="end" textLength="14.6" lengthAdjust="spacingAndGlyphs">0%</text>
<text x="48.53" y="382" font-size="12.5" text-anchor="middle" textLength="26.8" lengthAdjust="spacingAndGlyphs">2001</text>
<text x="78.82" y="382" font-size="12.5" text-anchor="middle" textLength="13.2" lengthAdjust="spacingAndGlyphs">03</text>
<text x="109.11" y="382" font-size="12.5" text-anchor="middle" textLength="13.2" lengthAdjust="spacingAndGlyphs">05</text>
<text x="139.39" y="382" font-size="12.5" text-anchor="middle" textLength="13.2" lengthAdjust="spacingAndGlyphs">07</text>
<text x="169.69" y="382" font-size="12.5" text-anchor="middle" textLength="13.2" lengthAdjust="spacingAndGlyphs">09</text>
<text x="199.97" y="382" font-size="12.5" text-anchor="middle" textLength="12.5" lengthAdjust="spacingAndGlyphs">11</text>
<text x="230.26" y="382" font-size="12.5" text-anchor="middle" textLength="12.8" lengthAdjust="spacingAndGlyphs">13</text>
<text x="260.56" y="382" font-size="12.5" text-anchor="middle" textLength="12.8" lengthAdjust="spacingAndGlyphs">15</text>
<text x="290.84" y="382" font-size="12.5" text-anchor="middle" textLength="12.5" lengthAdjust="spacingAndGlyphs">16</text>
<text x="336.28" y="382" font-size="12.5" text-anchor="middle" textLength="12.5" lengthAdjust="spacingAndGlyphs">19</text>
<text x="381.71" y="382" font-size="12.5" text-anchor="middle" textLength="13.0" lengthAdjust="spacingAndGlyphs">22</text>
<text x="427.15" y="382" font-size="12.5" text-anchor="middle" textLength="26.4" lengthAdjust="spacingAndGlyphs">2025</text>
<text x="457.44" y="382" font-size="12.5" text-anchor="middle" textLength="26.0" lengthAdjust="spacingAndGlyphs">2016</text>
<text x="487.73" y="382" font-size="12.5" text-anchor="middle" textLength="12.5" lengthAdjust="spacingAndGlyphs">18</text>
<text x="518.02" y="382" font-size="12.5" text-anchor="middle" textLength="13.2" lengthAdjust="spacingAndGlyphs">20</text>
<text x="548.31" y="382" font-size="12.5" text-anchor="middle" textLength="13.0" lengthAdjust="spacingAndGlyphs">22</text>
<text x="578.60" y="382" font-size="12.5" text-anchor="middle" textLength="26.4" lengthAdjust="spacingAndGlyphs">2024</text>
<text x="602.6" y="394" font-size="13" textLength="25.6" lengthAdjust="spacingAndGlyphs">年度</text>
<path d="M28.5 393V395.5Q28.5 396.5 29.5 396.5H442Q443 396.5 443 395.5V393M235.5 396.5V400" fill="none" stroke="#383838" stroke-width="1.4"/>
<path d="M457.5 392.5V395Q457.5 396 458.5 396H583.5Q584.5 396 584.5 395V392.5M520.5 396V399.5" fill="none" stroke="#383838" stroke-width="1.4"/>
<text x="207.6" y="447" font-size="14.5" textLength="60.5" lengthAdjust="spacing">当初予算</text>
<text x="489.6" y="430.7" font-size="13" textLength="67" lengthAdjust="spacing">当初予算と</text>
<text x="480.6" y="449.2" font-size="13" textLength="82.6" lengthAdjust="spacing">補正予算等の</text>
<text x="501.6" y="466.6" font-size="13" textLength="41" lengthAdjust="spacing">合計値</text>
<rect x="605" y="29.80" width="7" height="7" fill="#AE9EC6" stroke="#0a0a0a" stroke-width="1.3"/>
<text x="614.2" y="38.40" font-size="14.5" textLength="43.5" lengthAdjust="spacing">その他</text>
<rect x="605" y="65.04" width="7" height="7" fill="#000096" stroke="#0a0a0a" stroke-width="1.3"/>
<text x="614.2" y="73.64" font-size="14.5" textLength="43.0" lengthAdjust="spacing">防衛省</text>
<rect x="605" y="100.28" width="7" height="7" fill="#EC740E" stroke="#0a0a0a" stroke-width="1.3"/>
<text x="614.2" y="108.88" font-size="14.5" textLength="43.0" lengthAdjust="spacing">内閣府</text>
<rect x="605" y="135.52" width="7" height="7" fill="#FDCF9F" stroke="#0a0a0a" stroke-width="1.3"/>
<text x="614.2" y="144.12" font-size="14.5" textLength="43.0" lengthAdjust="spacing">環境省</text>
<rect x="605" y="170.76" width="7" height="7" fill="#FDFDCB" stroke="#0a0a0a" stroke-width="1.3"/>
<text x="614.2" y="179.36" font-size="14.5" textLength="43.0" lengthAdjust="spacing">総務省</text>
<rect x="605" y="206.00" width="7" height="7" fill="#FD99CB" stroke="#0a0a0a" stroke-width="1.3"/>
<text x="614.2" y="214.60" font-size="14.5" textLength="72.6" lengthAdjust="spacing">農林水産省</text>
<rect x="605" y="241.24" width="7" height="7" fill="#CBFDFD" stroke="#0a0a0a" stroke-width="1.3"/>
<text x="614.2" y="249.84" font-size="14.5" textLength="72.6" lengthAdjust="spacing">国土交通省</text>
<rect x="605" y="276.48" width="7" height="7" fill="#008888" stroke="#0a0a0a" stroke-width="1.3"/>
<text x="614.2" y="285.08" font-size="14.5" textLength="72.6" lengthAdjust="spacing">厚生労働省</text>
<rect x="605" y="311.72" width="7" height="7" fill="#CDFDCD" stroke="#0a0a0a" stroke-width="1.3"/>
<text x="614.2" y="320.32" font-size="14.5" textLength="72.6" lengthAdjust="spacing">経済産業省</text>
<rect x="605" y="346.96" width="7" height="7" fill="#35CBCB" stroke="#0a0a0a" stroke-width="1.3"/>
<text x="614.2" y="355.56" font-size="14.5" textLength="72.6" lengthAdjust="spacing">文部科学省</text>
</svg></body></html>
